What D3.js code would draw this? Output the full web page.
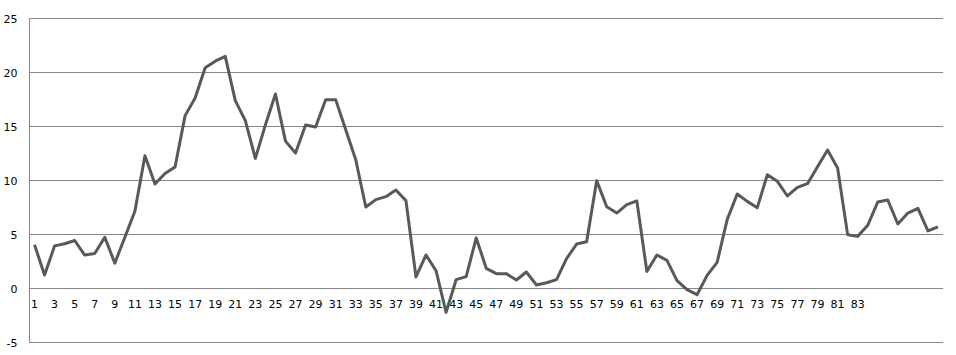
<!DOCTYPE html>
<html>
<head>
<meta charset="utf-8">
<script src="https://cdn.jsdelivr.net/npm/d3@7"></script>
<style>
  body { margin: 0; background: #fff; }
  svg text { font-family: "DejaVu Sans", Verdana, sans-serif; font-size: 11px; fill: #000; }
</style>
</head>
<body>
<div id="chart"></div>
<script>
// categorias 1..84, as restantes sem rótulo
const categories = d3.range(1, 92).map(i => i <= 84 ? String(i) : "");
const values = [
  4.0, 1.2, 3.9, 4.1, 4.4, 3.05, 3.2, 4.7, 2.3, 4.7,
  7.1, 12.25, 9.63, 10.6, 11.2, 15.96, 17.6, 20.4, 21.0, 21.45,
  17.35, 15.5, 12.0, 15.1, 17.96, 13.6, 12.5, 15.1, 14.9, 17.44,
  17.44, 14.66, 11.88, 7.5, 8.18, 8.46, 9.07, 8.09, 1.02, 3.06,
  1.6, -2.25, 0.77, 1.05, 4.63, 1.82, 1.33, 1.33, 0.74, 1.48,
  0.28, 0.49, 0.77, 2.72, 4.07, 4.29, 9.94, 7.53, 6.94, 7.72,
  8.06, 1.54, 3.06, 2.56, 0.68, -0.15, -0.62, 1.17, 2.38, 6.33,
  8.7, 8.02, 7.44, 10.49, 9.88, 8.52, 9.32, 9.66, 11.23, 12.78,
  11.11, 4.94, 4.78, 5.8, 7.96, 8.15, 5.93, 6.94, 7.38, 5.28,
  5.65
];
const yTicks = [-5, 0, 5, 10, 15, 20, 25];

const width = 956, height = 355;
const margin = { top: 18, right: 13, bottom: 13, left: 29.5 };

const svg = d3.select("#chart").append("svg")
  .attr("width", width).attr("height", height);

const x = d3.scaleBand()
  .domain(d3.range(values.length))
  .range([margin.left, width - margin.right])
  .padding(0);

const y = d3.scaleLinear()
  .domain([-5, 25])
  .range([height - margin.bottom, margin.top]);

// linhas de grade
svg.append("g")
  .selectAll("line")
  .data(yTicks)
  .join("line")
  .attr("x1", margin.left).attr("x2", width - margin.right)
  .attr("y1", d => Math.round(y(d)) + 0.5).attr("y2", d => Math.round(y(d)) + 0.5)
  .attr("stroke", "#878787");

// eixo vertical
svg.append("line")
  .attr("x1", margin.left).attr("x2", margin.left)
  .attr("y1", Math.round(y(25)) + 0.5).attr("y2", Math.round(y(-5)) + 0.5)
  .attr("stroke", "#878787");

const yAxis = svg.append("g")
  .attr("transform", `translate(${margin.left},0)`)
  .call(d3.axisLeft(y).tickValues(yTicks).tickFormat(d => String(d)).tickSize(0).tickPadding(12));
yAxis.select(".domain").remove();
yAxis.selectAll("text").attr("dy", "0.45em");

const xAxis = svg.append("g")
  .attr("transform", `translate(0,${Math.round(y(0))})`)
  .call(d3.axisBottom(x)
    .tickValues(d3.range(0, values.length, 2))
    .tickFormat(i => categories[i])
    .tickSize(0).tickPadding(12));
xAxis.select(".domain").remove();

const line = d3.line()
  .x((d, i) => x(i) + x.bandwidth() / 2)
  .y(d => y(d));

svg.append("path")
  .datum(values)
  .attr("d", line)
  .attr("fill", "none")
  .attr("stroke", "#595959")
  .attr("stroke-width", 3)
  .attr("stroke-linejoin", "round");
</script>
</body>
</html>
